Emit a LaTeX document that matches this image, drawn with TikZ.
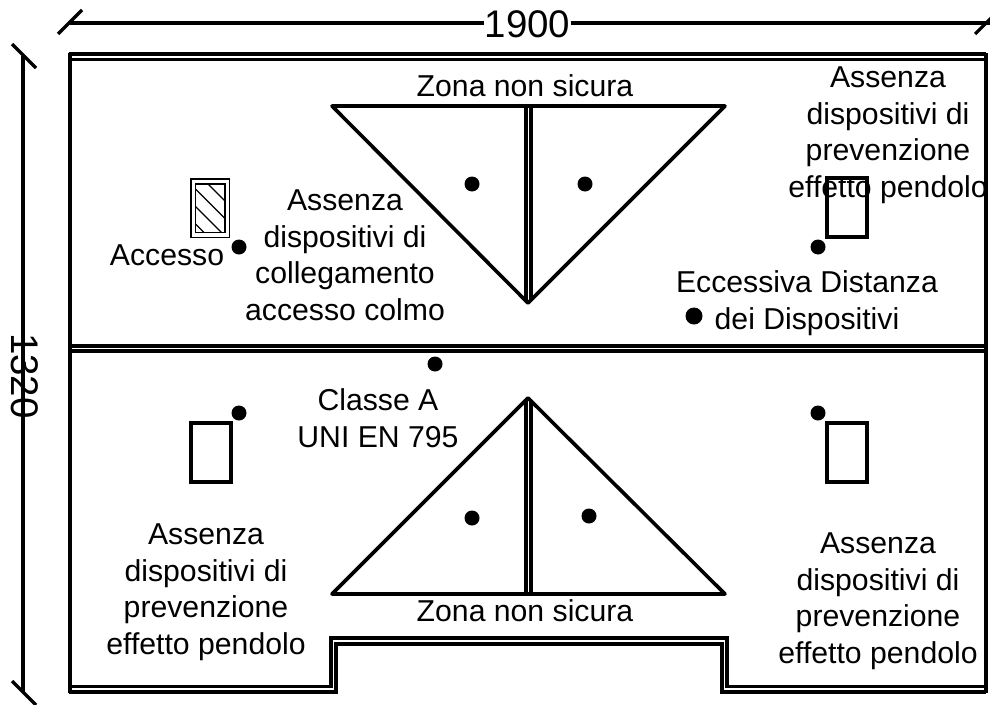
\documentclass[tikz,border=0pt]{standalone}
\usepackage{fontspec}
\setmainfont{Liberation Sans}
\tikzset{
  wall/.style={line width=3.6pt,line join=miter,black},
  dimline/.style={line width=3.2pt,black},
  win/.style={line width=3.4pt,black},
  thin/.style={line width=1.2pt,black},
  dot/.style={circle,fill=black,draw=none,minimum size=15pt,inner sep=0pt},
  lab/.style={font=\fontsize{30.2}{36.5}\selectfont,align=center,inner sep=0pt,text=black},
  dimlab/.style={font=\fontsize{38.5}{42}\selectfont,inner sep=0pt,text=black}
}
\begin{document}
\begin{tikzpicture}[x=1pt,y=-1pt]
\useasboundingbox[fill=white] (0,0) rectangle (990,704);
% outer walls
\draw[wall] (68.5,692) -- (336,692) -- (336,644) -- (722,644) -- (722,692) -- (986,692);
\draw[wall] (71,686.5) -- (331,686.5) -- (331,638) -- (727,638) -- (727,686.5) -- (986,686.5);
\draw[wall] (68.5,54) -- (986,54);
\draw[wall] (70,59.5) -- (986,59.5);
\draw[wall] (70,53) -- (70,693);
\draw[wall] (986,53) -- (986,693);
% middle ridge
\draw[wall] (70,346) -- (986,346);
\draw[wall] (70,351) -- (986,351);
% triangles
\draw[wall,line join=round] (332,106) -- (725,106) -- (528,303) -- cycle;
\draw[wall] (526,106) -- (526,301);
\draw[wall] (531,106) -- (531,301);
\draw[wall,line join=round] (332,594) -- (725,594) -- (528,398) -- cycle;
\draw[wall] (526,400) -- (526,594);
\draw[wall] (531,400) -- (531,594);
% windows
\draw[win] (827,178) rectangle (867,237);
\draw[win] (191,423) rectangle (231,482);
\draw[win] (827,423) rectangle (867,482);
% access hatch
\draw[thin] (191,179) rectangle (229.5,237.5);
\draw[thin] (195.5,184) rectangle (225,232.5);
\begin{scope}
\clip (195.5,184) rectangle (225,232.5);
\foreach \k in {-30,-12.5,5,22.5,40}{
  \draw[thin] (195.5,184+\k) -- (245.5,234+\k);
}
\end{scope}
% dimensions
\node[dimlab] (w) at (527.5,24) {1900};
\node[dimlab,rotate=-90] (h) at (25,376) {1320};
\coordinate (wl) at (70,23);
\coordinate (wr) at (998,23);
\coordinate (ht) at (23,56);
\coordinate (hb) at (23,692);
\coordinate (wl1) at (58,34);
\coordinate (wl2) at (82,10);
\coordinate (wr1) at (975,34);
\coordinate (wr2) at (999,10);
\coordinate (ht1) at (12,44);
\coordinate (ht2) at (36,68);
\coordinate (hb1) at (12,681);
\coordinate (hb2) at (36,705);
\draw[dimline] (wl) -- (wl -| w.west);
\draw[dimline] (wr -| w.east) -- (wr);
\draw[dimline] (ht) -- (ht |- h.east);
\draw[dimline] (hb |- h.west) -- (hb);
\draw[dimline] (wl1) -- (wl2);
\draw[dimline] (wr1) -- (wr2);
\draw[dimline] (ht1) -- (ht2);
\draw[dimline] (hb1) -- (hb2);
% labels
\node[lab] (z1) at (525,86) {Zona non sicura};
\node[lab] (z2) at (525,611) {Zona non sicura};
\node[lab] (a1) at (888,135) {Assenza\\dispositivi di\\prevenzione\\effetto pendolo};
\node[lab] (a2) at (345,255.5) {Assenza\\dispositivi di\\collegamento\\accesso colmo};
\node[lab] (acc) at (167,255) {Accesso};
\node[lab] (ecc) at (807,303) {Eccessiva Distanza\\dei Dispositivi};
\node[lab] (cl) at (378,418) {Classe A\\UNI EN 795};
\node[lab] (a3) at (206,592) {Assenza\\dispositivi di\\prevenzione\\effetto pendolo};
\node[lab] (a4) at (878,601) {Assenza\\dispositivi di\\prevenzione\\effetto pendolo};
% dots
\node[dot] (d1) at (239,247) {};
\node[dot] (d2) at (818,247) {};
\node[dot,minimum size=17pt] (d3) at (694,316) {};
\node[dot] (d4) at (472,184) {};
\node[dot] (d5) at (585,184) {};
\node[dot] (d6) at (435,364) {};
\node[dot] (d7) at (239,413) {};
\node[dot] (d8) at (818,413) {};
\node[dot] (d9) at (472,518) {};
\node[dot] (d10) at (589,516) {};
\end{tikzpicture}
\end{document}
